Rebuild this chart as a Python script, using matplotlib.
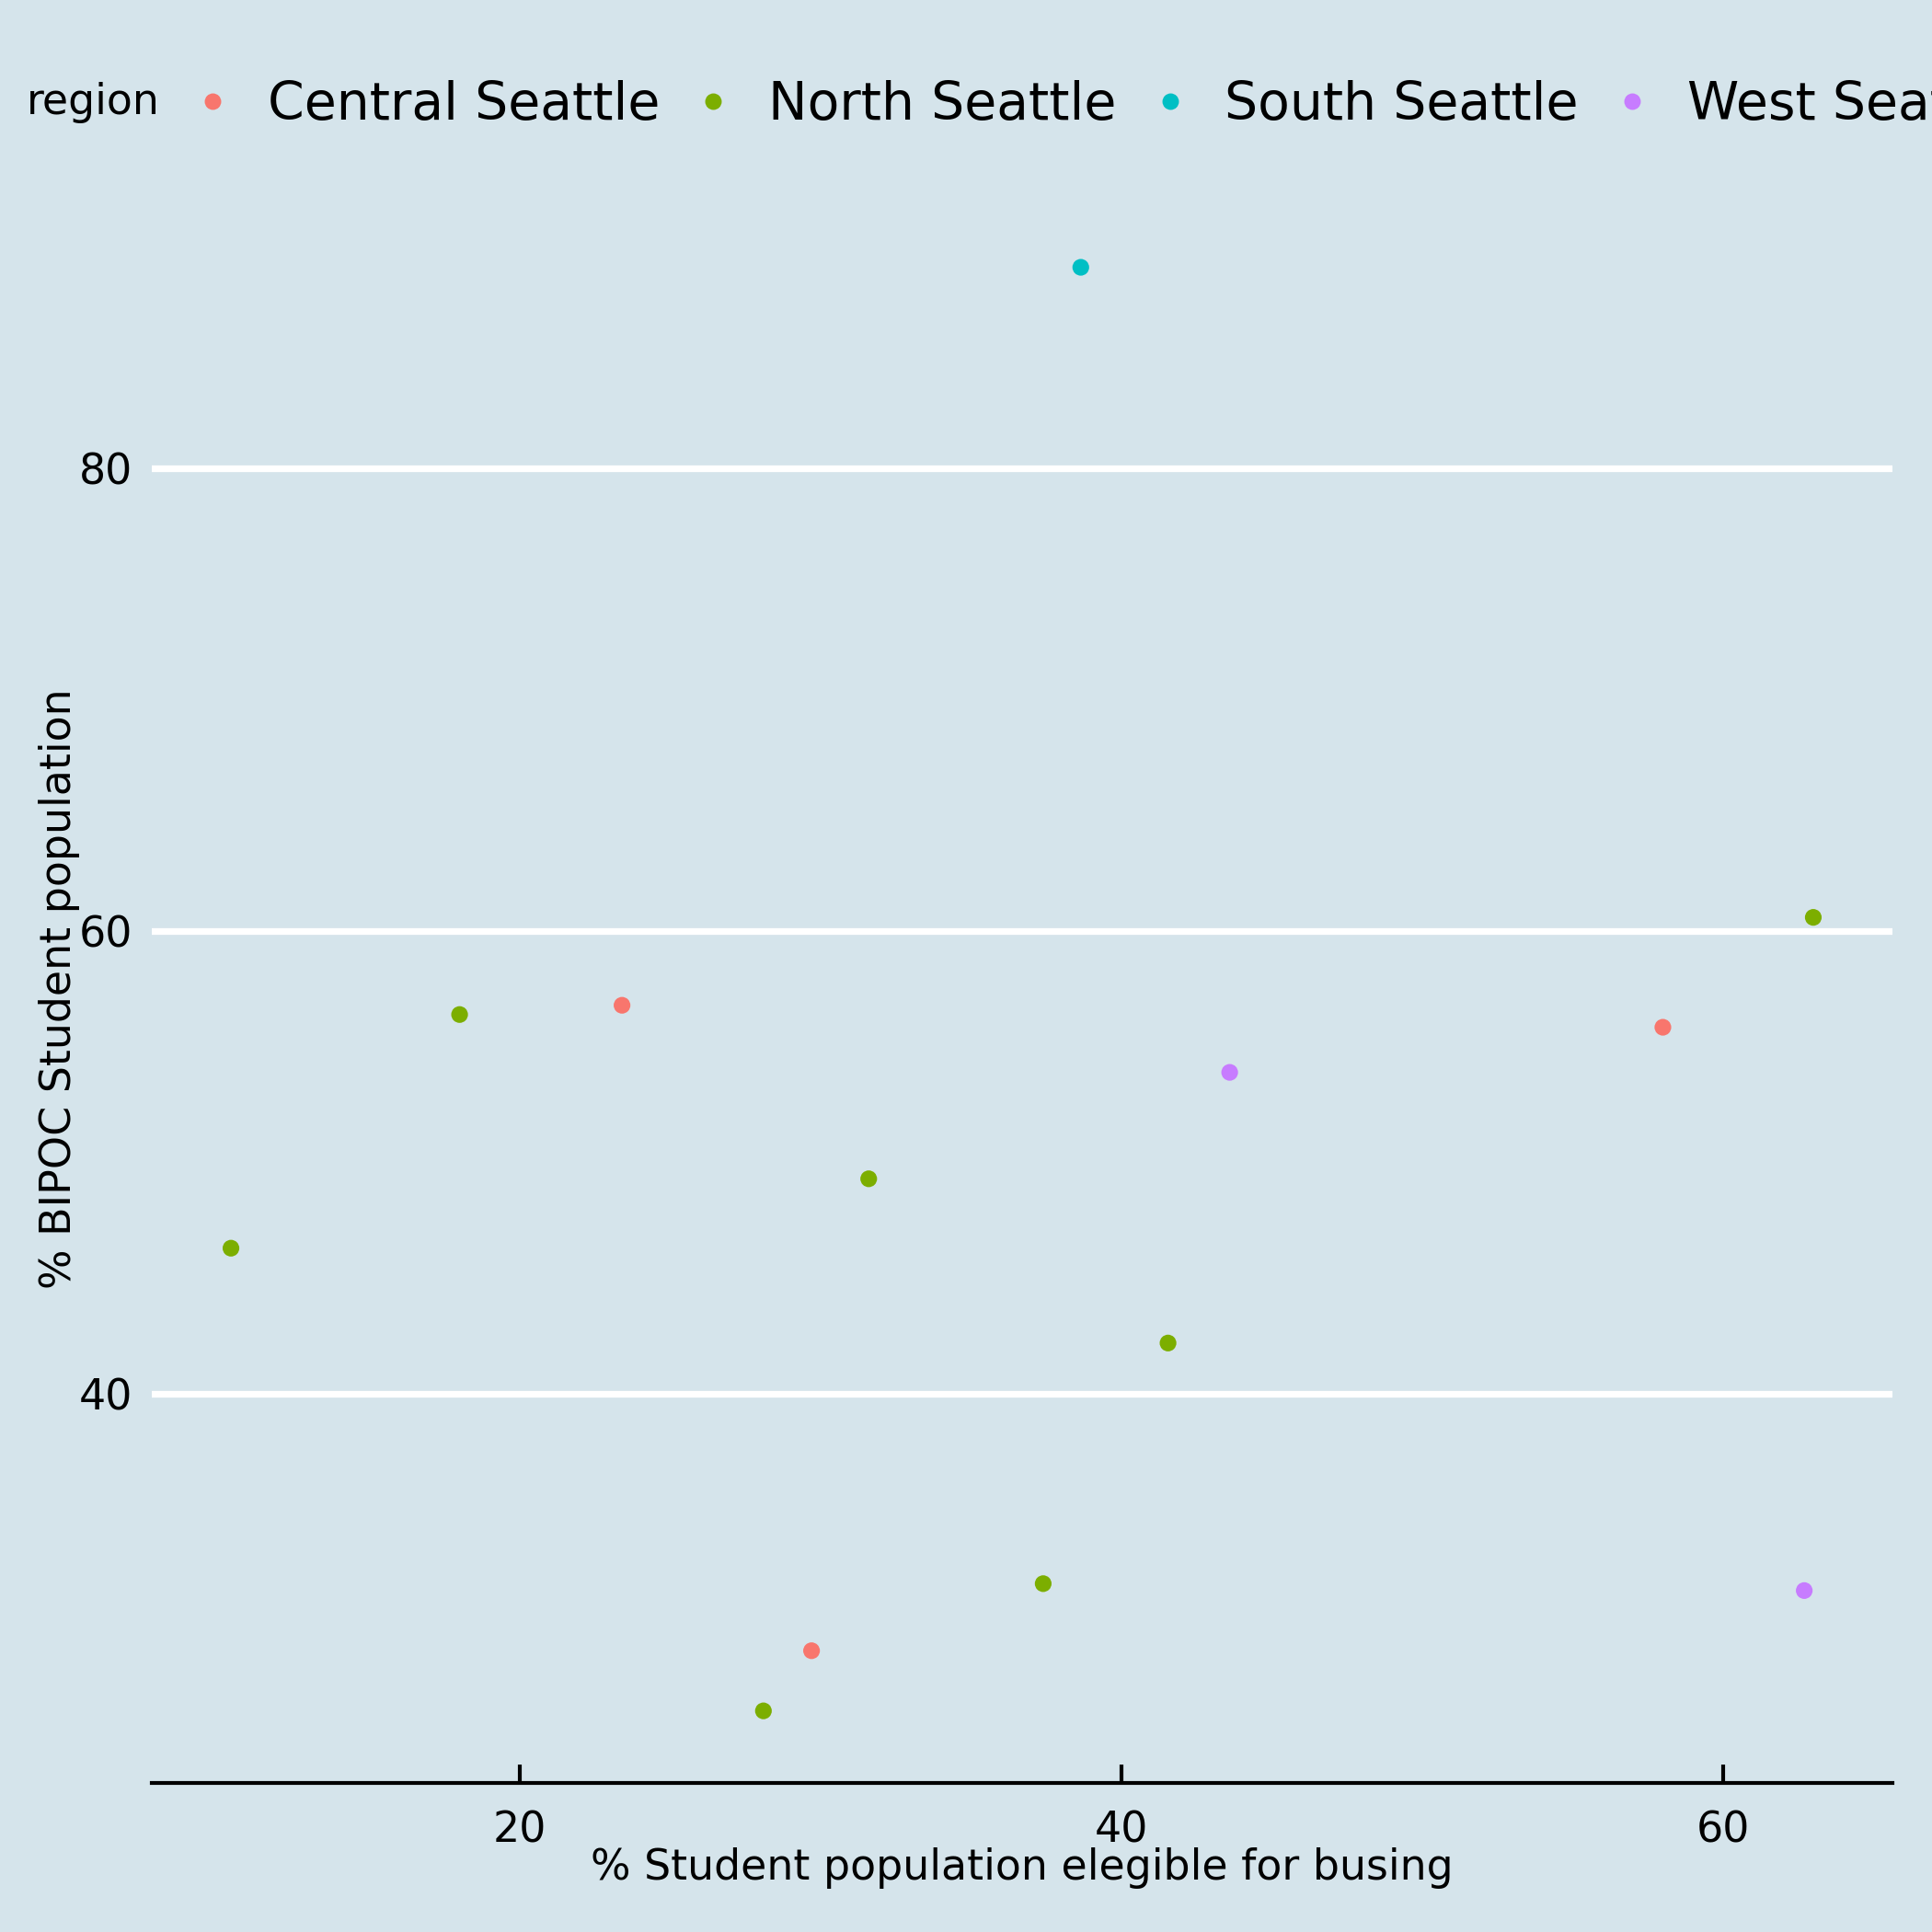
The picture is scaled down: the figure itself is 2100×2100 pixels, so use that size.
import matplotlib
matplotlib.use("Agg")
import matplotlib.pyplot as plt
from matplotlib.lines import Line2D

plt.rcParams['font.family'] = ['DejaVu Sans']

regions = ["Central Seattle", "North Seattle", "South Seattle", "West Seattle"]
colors = ["#F8766D", "#7CAE00", "#00BFC4", "#C77CFF"]

busing_pct = [10.4, 18.0, 23.4, 29.7, 28.1, 31.6, 37.4, 38.65, 41.55, 43.6, 58.0, 63.0, 62.7]
bipoc_pct = [46.3, 56.4, 56.8, 28.9, 26.3, 49.3, 31.8, 88.7, 42.2, 53.9, 55.85, 60.6, 31.5]
point_region = ["North Seattle", "North Seattle", "Central Seattle", "Central Seattle",
                "North Seattle", "North Seattle", "North Seattle", "South Seattle",
                "North Seattle", "West Seattle", "Central Seattle", "North Seattle",
                "West Seattle"]

y_ticks = [40, 60, 80]
x_ticks = [20, 40, 60]

bg = "#d5e4eb"
fig = plt.figure(figsize=(7, 7), dpi=300, facecolor=bg)
ax = fig.add_axes([0.0786, 0.0771, 0.9795 - 0.0786, 0.899 - 0.0771])
ax.set_facecolor(bg)

for reg, col in zip(regions, colors):
    xs = [x for x, r in zip(busing_pct, point_region) if r == reg]
    ys = [y for y, r in zip(bipoc_pct, point_region) if r == reg]
    ax.scatter(xs, ys, s=19, color=col, edgecolors='none', zorder=3)

ax.margins(0.05)
ax.set_xticks(x_ticks)
ax.set_yticks(y_ticks)
ax.grid(axis='y', color='white', linewidth=1.75, zorder=0)
ax.set_axisbelow(True)
for s in ['top', 'right', 'left']:
    ax.spines[s].set_visible(False)
ax.spines['bottom'].set_linewidth(1.0)
ax.spines['bottom'].set_color('black')
ax.tick_params(axis='x', direction='in', length=4.8, width=1.0, pad=7, labelsize=11)
ax.tick_params(axis='y', length=0, pad=5, labelsize=11)

ax.set_xlabel("% Student population elegible for busing", fontsize=11, va='center')
ax.xaxis.set_label_coords(0.5, -0.0533)
ax.set_ylabel("% BIPOC Student population", fontsize=11, va='center')
ax.yaxis.set_label_coords((64 - 165) / (2057 - 165), 0.5)

handles = [Line2D([], [], linestyle='none', marker='o', markersize=4.3,
                  markerfacecolor=c, markeredgecolor='none') for c in colors]
fig.legend(handles, regions, loc='center left', bbox_to_anchor=(0.102, 0.9457),
           ncol=4, frameon=False, fontsize=13.66, handlelength=0.6,
           handletextpad=0.75, columnspacing=0.72, borderpad=0, borderaxespad=0)
fig.text(29 / 2100, 0.9467, "region", fontsize=11, va='center', ha='left')

fig.savefig("out.png", dpi=300, facecolor=bg)
